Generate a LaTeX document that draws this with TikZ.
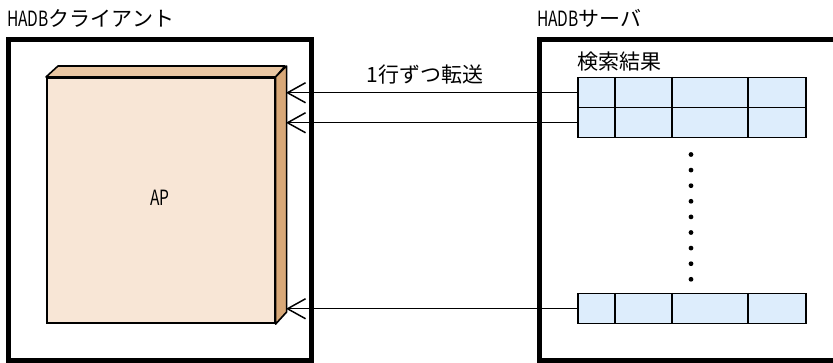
\documentclass[tikz,border=0pt]{standalone}
\usepackage{fontspec}
\setmainfont{Noto Sans CJK JP}
\newfontfamily\latnarrow[FakeStretch=0.74]{Noto Sans CJK JP}
\usetikzlibrary{arrows.meta}
\definecolor{apfront}{HTML}{F8E6D6}
\definecolor{aptop}{HTML}{E9C6A2}
\definecolor{apside}{HTML}{D8A878}
\definecolor{cellfill}{HTML}{DDEDFC}
\tikzset{
  lbl/.style={inner sep=0pt, font=\fontsize{21}{23}\selectfont},
  outerbox/.style={line width=5pt},
  rowbox/.style={draw, line width=1.5pt, fill=cellfill, minimum width=228pt, minimum height=30pt, inner sep=0pt},
  arr/.style={line width=1.5pt, -{Straight Barb[length=18pt,width=20pt,line width=1.5pt]}},
  dotmark/.style={circle, fill=black, inner sep=0pt, minimum size=4.8pt}
}
\begin{document}
\begin{tikzpicture}[x=1pt,y=-1pt]
\useasboundingbox (0,0) rectangle (833,363);
\clip (0,0) rectangle (833,363);
% titles
\node[lbl, anchor=west] (tclient) at (7,18) {{\latnarrow HADB}クライアント};
\node[lbl, anchor=west] (tserver) at (537,18) {{\latnarrow HADB}サーバ};
% outer boxes
\draw[outerbox] (8.5,39.5) rectangle (311,360.5);
\draw[outerbox] (845,39.5) -- (539.5,39.5) -- (539.5,360.5) -- (845,360.5);
% AP box
\node[draw, line width=1.6pt, fill=apfront, minimum width=228pt, minimum height=245.5pt, inner sep=0pt, anchor=north west] (ap) at (46,77) {};
\draw[line width=1.6pt, fill=aptop, line join=round] (ap.north west) -- ++(12,-11) -- ++(227,0) -- (ap.north east) -- cycle;
\draw[line width=1.6pt, fill=apside, line join=round] (ap.north east) -- ++(11,-11) -- ++(0,246) -- (ap.south east) -- cycle;
\coordinate (apr) at (286,200);
\node[lbl] (aplabel) at (160,198) {\latnarrow AP};
% result table
\node[lbl, anchor=west] (tres) at (577,62) {検索結果};
\node[rowbox, anchor=north west] (r1) at (577,77) {};
\node[rowbox, anchor=north west] (r2) at (577,107) {};
\node[rowbox, anchor=north west] (r3) at (577,293) {};
\foreach \r in {r1,r2,r3}{
  \foreach \cx in {615,672,748}{
    \draw[line width=1.5pt] (\cx,0 |- \r.north) -- (\cx,0 |- \r.south);
  }
}
% dots
\foreach \i in {0,...,8}{
  \node[dotmark] (d\i) at (691,{154.5+\i*15.6}) {};
}
% arrows
\draw[arr] (r1.west) -- (r1.west -| apr);
\draw[arr] (r2.west) -- (r2.west -| apr);
\draw[arr] (r3.west) -- (r3.west -| apr);
\node[lbl] (ttransfer) at (425,75) {1行ずつ転送};
\end{tikzpicture}
\end{document}
